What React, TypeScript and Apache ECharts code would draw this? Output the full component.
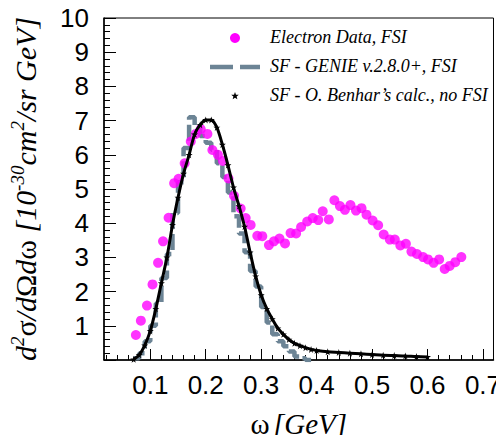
import React, { useEffect, useRef } from "react";
import * as echarts from "echarts";

// ---- data ----
const electronOmega = [0.074, 0.083, 0.094, 0.104, 0.114, 0.123, 0.133, 0.143, 0.151, 0.162, 0.173, 0.182, 0.191, 0.203, 0.212, 0.222, 0.231, 0.241, 0.251, 0.263, 0.272, 0.281, 0.293, 0.302, 0.314, 0.323, 0.333, 0.343, 0.353, 0.363, 0.372, 0.383, 0.393, 0.403, 0.411, 0.422, 0.432, 0.442, 0.451, 0.461, 0.471, 0.481, 0.490, 0.501, 0.511, 0.521, 0.532, 0.541, 0.551, 0.561, 0.571, 0.581, 0.592, 0.601, 0.611, 0.621, 0.631, 0.640, 0.650, 0.661];
const electronXsec = [0.73, 1.15, 1.59, 2.21, 2.84, 3.47, 4.16, 5.17, 5.30, 5.75, 6.39, 6.61, 6.75, 6.61, 6.14, 6.00, 5.82, 5.31, 4.80, 4.43, 4.15, 3.95, 3.63, 3.62, 3.36, 3.47, 3.55, 3.41, 3.71, 3.70, 3.89, 4.05, 4.15, 4.09, 4.35, 4.11, 4.67, 4.50, 4.39, 4.53, 4.37, 4.44, 4.25, 4.08, 3.94, 3.67, 3.52, 3.52, 3.35, 3.40, 3.17, 3.10, 3.01, 2.94, 2.84, 2.94, 2.66, 2.75, 2.86, 3.01];

const genieBinLeft = [0.07, 0.08, 0.09, 0.10, 0.11, 0.12, 0.13, 0.14, 0.15, 0.16, 0.17, 0.18, 0.19, 0.20, 0.21, 0.22, 0.23, 0.24, 0.25, 0.26, 0.27, 0.28, 0.29, 0.30, 0.31, 0.32, 0.33, 0.34, 0.35, 0.36, 0.37, 0.38, 0.39];
const genieXsec = [0.05, 0.2, 0.55, 1.0, 1.65, 2.4, 3.1, 4.3, 5.2, 6.2, 7.1, 6.8, 6.55, 6.35, 6.15, 5.75, 5.35, 4.9, 4.2, 3.7, 3.15, 2.6, 2.15, 1.55, 1.1, 0.75, 0.55, 0.4, 0.25, 0.1, 0.05, 0.0, 0.0];

const benharOmega = [0.07, 0.08, 0.09, 0.10, 0.11, 0.12, 0.13, 0.14, 0.15, 0.16, 0.17, 0.18, 0.19, 0.20, 0.21, 0.22, 0.23, 0.24, 0.25, 0.26, 0.27, 0.28, 0.29, 0.30, 0.31, 0.32, 0.33, 0.34, 0.35, 0.36, 0.37, 0.38, 0.39, 0.40, 0.42, 0.44, 0.46, 0.48, 0.50, 0.52, 0.54, 0.56, 0.58, 0.60];
const benharXsec = [0.02, 0.15, 0.43, 0.85, 1.5, 2.25, 3.0, 3.95, 4.75, 5.45, 6.0, 6.6, 6.88, 7.02, 7.02, 6.8, 6.3, 5.7, 5.05, 4.5, 3.9, 3.15, 2.45, 1.9, 1.5, 1.2, 0.93, 0.75, 0.6, 0.49, 0.42, 0.36, 0.31, 0.28, 0.24, 0.22, 0.2, 0.18, 0.16, 0.14, 0.13, 0.12, 0.1, 0.09];

const xMajorTicks = [0.1, 0.2, 0.3, 0.4, 0.5, 0.6, 0.7];
const xMinorTicks = [0.02, 0.04, 0.06, 0.08, 0.12, 0.14, 0.16, 0.18, 0.22, 0.24, 0.26, 0.28, 0.32, 0.34, 0.36, 0.38, 0.42, 0.44, 0.46, 0.48, 0.52, 0.54, 0.56, 0.58, 0.62, 0.64, 0.66, 0.68, 0.72];
const yTicks = [0, 1, 2, 3, 4, 5, 6, 7, 8, 9, 10];

const legendLabels = ["Electron Data, FSI", "SF - GENIE v.2.8.0+, FSI", "SF - O. Benhar\u2019s calc., no FSI"];

const STAR = "path://M50,0 L61,35 L98,35 L68,57 L79,91 L50,70 L21,91 L32,57 L2,35 L39,35 Z";
const SANS = "'Liberation Sans', Arial, Helvetica, sans-serif";
const SERIF = "'Liberation Serif', 'Times New Roman', serif";
const GRAY = "#6c8495";

function starPoints(cx: number, cy: number, r: number) {
  const pts: number[][] = [];
  for (let i = 0; i < 10; i++) {
    const rr = i % 2 === 0 ? r : r * 0.42;
    const a = -Math.PI / 2 + (i * Math.PI) / 5;
    pts.push([cx + rr * Math.cos(a), cy + rr * Math.sin(a)]);
  }
  return pts;
}

export default function App() {
  const ref = useRef<HTMLDivElement>(null);
  useEffect(() => {
    if (!ref.current) return;
    const chart = echarts.init(ref.current, undefined, { renderer: "svg" });
    const xMin = 0.0165;
    const xMax = 0.719;
    const legendText = (i: number, y: number) => ({
      type: "text",
      left: 270,
      top: y - 10,
      style: {
        text: legendLabels[i],
        font: `italic 18px ${SERIF}`,
        fill: "#000",
      },
    });
    chart.setOption({
      animation: false,
      backgroundColor: "#fff",
      grid: {
        left: 103,
        right: 10,
        top: 18,
        bottom: 75.5,
        show: true,
        borderColor: "#000",
        borderWidth: 1,
        backgroundColor: "transparent",
      },
      xAxis: [
        {
          type: "value",
          min: xMin,
          max: xMax,
          position: "bottom",
          splitLine: { show: false },
          axisLine: { show: true, lineStyle: { color: "#000", width: 1.5 } },
          axisTick: { show: true, inside: true, length: 11, customValues: xMajorTicks, lineStyle: { color: "#000", width: 1 } },
          axisLabel: {
            show: true,
            customValues: xMajorTicks,
            margin: 12,
            color: "#000",
            fontSize: 26,
            fontFamily: SANS,
            formatter: (v: number) => v.toFixed(1),
          },
          name: "{g|\u03c9} {i|[GeV]}",
          nameLocation: "middle",
          nameGap: 49,
          nameTextStyle: {
            rich: {
              g: { fontFamily: SERIF, fontSize: 29, color: "#000" },
              i: { fontFamily: SERIF, fontSize: 29, fontStyle: "italic", color: "#000" },
            },
          },
        },
        {
          type: "value",
          min: xMin,
          max: xMax,
          position: "bottom",
          splitLine: { show: false },
          axisLine: { show: false },
          axisTick: { show: true, inside: true, length: 5, customValues: xMinorTicks, lineStyle: { color: "#000", width: 1 } },
          axisLabel: { show: false },
        },
      ],
      yAxis: {
        type: "value",
        min: 0,
        max: 10,
        interval: 1,
        splitLine: { show: false },
        axisLine: { show: true, lineStyle: { color: "#000", width: 1.5 } },
        axisTick: { show: true, inside: true, length: 12, lineStyle: { color: "#000", width: 1 } },
        minorTick: { show: true, splitNumber: 5, length: 6, lineStyle: { color: "#000", width: 1 } },
        axisLabel: {
          margin: 15,
          color: "#000",
          fontSize: 26,
          fontFamily: SANS,
          customValues: yTicks,
          formatter: (v: number) => (v === 0 ? "" : String(v)),
        },
        name:
          "{i|d}{sup|2}{g|\u03c3}{i|/d}{g|\u03a9}{i|d}{g|\u03c9}{i| [10}{sup|-30}{i|cm}{sup|2}{i|/sr GeV]}",
        nameLocation: "middle",
        nameRotate: 90,
        nameGap: 62,
        nameTextStyle: {
          rich: {
            i: { fontFamily: SERIF, fontSize: 30, fontStyle: "italic", color: "#000", lineHeight: 34 },
            g: { fontFamily: SERIF, fontSize: 30, color: "#000", lineHeight: 34 },
            sup: { fontFamily: SERIF, fontSize: 19, fontStyle: "italic", color: "#000", verticalAlign: "top", lineHeight: 34 },
          },
        },
      },
      series: [
        {
          name: legendLabels[1],
          type: "line",
          step: "end",
          xAxisIndex: 0,
          symbol: "none",
          z: 2,
          lineStyle: { color: GRAY, width: 4.5, type: [16, 5] },
          data: genieBinLeft.map((x, i) => [x, genieXsec[i]]),
        },
        {
          name: legendLabels[0],
          type: "scatter",
          xAxisIndex: 0,
          symbol: "circle",
          symbolSize: 10,
          z: 3,
          itemStyle: { color: "#ff00ff" },
          data: electronOmega.map((x, i) => [x, electronXsec[i]]),
        },
        {
          name: legendLabels[2],
          type: "line",
          xAxisIndex: 0,
          smooth: 0.3,
          symbol: STAR,
          symbolSize: 7,
          showAllSymbol: true,
          z: 4,
          itemStyle: { color: "#000" },
          lineStyle: { color: "#000", width: 3 },
          data: benharOmega.map((x, i) => [x, benharXsec[i]]),
        },
      ],
      graphic: [
        { type: "circle", shape: { cx: 235, cy: 38, r: 5 }, style: { fill: "#ff00ff" } },
        legendText(0, 38),
        {
          type: "line",
          shape: { x1: 210, y1: 67, x2: 260, y2: 67 },
          style: { stroke: GRAY, lineWidth: 4.5, lineDash: [23, 7] },
        },
        legendText(1, 67),
        { type: "polygon", shape: { points: starPoints(235, 96, 4) }, style: { fill: "#000" } },
        legendText(2, 96),
      ],
    });
    return () => chart.dispose();
  }, []);
  return <div ref={ref} style={{ width: 504, height: 443, margin: -8 }} />;
}
